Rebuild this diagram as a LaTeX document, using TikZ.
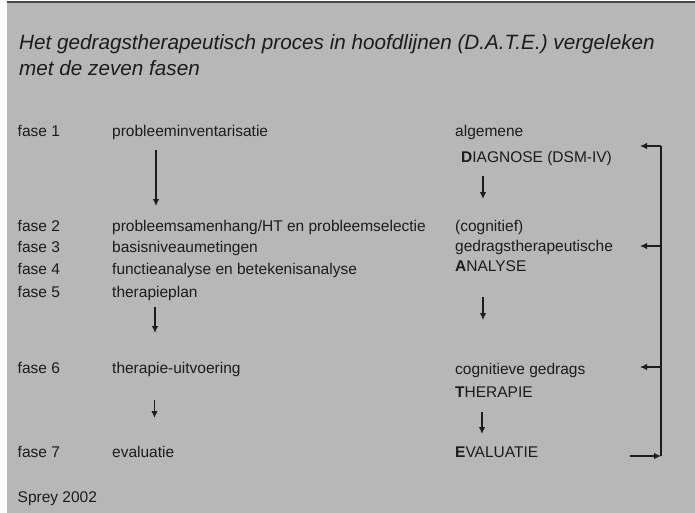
\documentclass[tikz,border=0pt]{standalone}
\usepackage{fontspec}
\setmainfont{Liberation Sans}
\usetikzlibrary{arrows.meta}
\definecolor{bggray}{HTML}{B7B7B7}
\definecolor{ink}{HTML}{1C1C1C}
\begin{document}
\begin{tikzpicture}[x=1pt,y=1pt,
  txt/.style={anchor=base west,inner sep=0pt,text=ink,font=\fontsize{15.5}{18}\selectfont},
  ttl/.style={anchor=base west,inner sep=0pt,text=ink,font=\fontsize{20.7}{24}\selectfont\itshape},
  arr/.style={draw=ink,line width=1.2pt,-{Latex[length=7pt,width=6.5pt]}},
  ln/.style={draw=ink,line width=1.2pt}]
\useasboundingbox (0,0) rectangle (695,-513);
\fill[white] (0,0) rectangle (695,-513);
\fill[bggray] (7,-2) rectangle (695,-513);
\draw[ink!80,line width=2pt] (7,-2) -- (695,-2);
% title
\node[ttl] (t1) at (19,-50) {Het gedragstherapeutisch proces in hoofdlijnen (D.A.T.E.) vergeleken};
\node[ttl] (t2) at (19,-75.5) {met de zeven fasen};
% left labels
\node[txt] (f1) at (17.5,-137) {fase 1};
\node[txt] (f2) at (17.5,-231) {fase 2};
\node[txt] (f3) at (17.5,-252.5) {fase 3};
\node[txt] (f4) at (17.5,-274.5) {fase 4};
\node[txt] (f5) at (17.5,-297) {fase 5};
\node[txt] (f6) at (17.5,-373) {fase 6};
\node[txt] (f7) at (17.5,-457) {fase 7};
\node[txt] (src) at (17.5,-502) {Sprey 2002};
% middle column
\node[txt] (m1) at (112,-137) {probleeminventarisatie};
\node[txt] (m2) at (112,-231) {probleemsamenhang/HT en probleemselectie};
\node[txt] (m3) at (112,-252.5) {basisniveaumetingen};
\node[txt] (m4) at (112,-274.5) {functieanalyse en betekenisanalyse};
\node[txt] (m5) at (112,-297) {therapieplan};
\node[txt] (m6) at (112,-373) {therapie-uitvoering};
\node[txt] (m7) at (112,-457) {evaluatie};
% right column
\node[txt] (r1) at (455,-137) {algemene};
\node[txt] (r2) at (461,-162) {\textbf{D}IAGNOSE (DSM-IV)};
\node[txt] (r3) at (455,-231) {(cognitief)};
\node[txt] (r4) at (455,-251) {gedragstherapeutische};
\node[txt] (r5) at (455,-271) {\textbf{A}NALYSE};
\node[txt] (r6) at (455,-374) {cognitieve gedrags};
\node[txt] (r7) at (455,-397) {\textbf{T}HERAPIE};
\node[txt] (r8) at (455,-457) {\textbf{E}VALUATIE};
% left arrows
\coordinate (la1) at (156,-150); \coordinate (lb1) at (156,-206);
\coordinate (la2) at (155,-307); \coordinate (lb2) at (155,-333);
\coordinate (la3) at (154.5,-400); \coordinate (lb3) at (154.5,-418);
\draw[arr] (la1) -- (lb1);
\draw[arr] (la2) -- (lb2);
\draw[arr] (la3) -- (lb3);
% right arrows
\coordinate (ra1) at (483,-176); \coordinate (rb1) at (483,-199);
\coordinate (ra2) at (483,-297); \coordinate (rb2) at (483,-320);
\coordinate (ra3) at (482,-412); \coordinate (rb3) at (482,-434);
\draw[arr] (ra1) -- (rb1);
\draw[arr] (ra2) -- (rb2);
\draw[arr] (ra3) -- (rb3);
% feedback bracket
\coordinate (bt) at (661,-146);
\coordinate (bm1) at (661,-246);
\coordinate (bm2) at (661,-367);
\coordinate (bb) at (661,-456);
\coordinate (p1) at (640,-146);
\coordinate (p2) at (640,-246);
\coordinate (p3) at (640,-367);
\coordinate (p4) at (630,-456);
\draw[ln] (bb) -- (bt);
\draw[arr] (bt) -- (p1);
\draw[arr] (bm1) -- (p2);
\draw[arr] (bm2) -- (p3);
\draw[arr] (p4) -- (bb);
\end{tikzpicture}
\end{document}
